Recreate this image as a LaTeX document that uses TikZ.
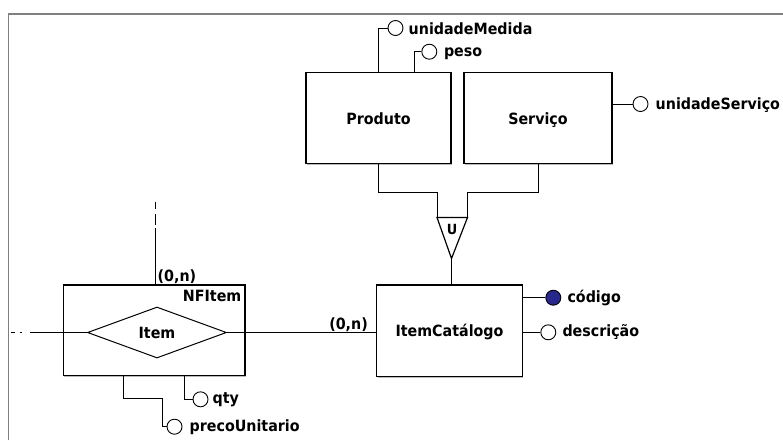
\documentclass[tikz,border=0pt]{standalone}
\usepackage{fontspec}
\setmainfont{DejaVu Sans}[FakeStretch=0.92]
\usetikzlibrary{shapes.geometric,calc,shadows}
\definecolor{keyblue}{RGB}{40,40,140}
\definecolor{framegray}{RGB}{128,128,128}
\begin{document}
\begin{tikzpicture}[x=1pt,y=-1pt,
  font=\bfseries\fontsize{15.5}{17}\selectfont,
  entity/.style={draw, fill=white, line width=1.3pt, inner sep=0pt,
    text height=11.5pt, text depth=0pt,
    drop shadow={shadow xshift=1pt, shadow yshift=-1.2pt, fill=black!45, opacity=0.6}},
  relship/.style={diamond, draw, line width=1pt, inner sep=0pt, aspect=2.7},
  attr/.style={circle, draw, fill=white, line width=0.9pt, minimum size=15pt, inner sep=0pt},
  keyattr/.style={attr, fill=keyblue},
  attrtext/.style={inner sep=0pt, anchor=base west},
  card/.style={inner sep=0pt},
  conn/.style={line width=1pt}]
\useasboundingbox (0,0) rectangle (783,440);

% window frame
\draw[framegray, line width=1.8pt] (8.5,440) -- (8.5,14) -- (783,14);

% entities
\node[entity, minimum width=145pt, minimum height=91pt] (produto) at (378.5,118.3) {Produto};
\node[entity, minimum width=148pt, minimum height=91pt] (servico) at (538,118.3) {Serviço};
\node[entity, minimum width=145.6pt, minimum height=91.7pt] (itemcat) at (449.5,330.8) {ItemCatálogo};
\node[entity, minimum width=181.7pt, minimum height=90.7pt] (nfitem) at (154.2,330.3) {};
\node[card, anchor=base east] (nfname) at (241.5,301.7) {NFItem};
\node[relship, minimum width=139pt, minimum height=51pt] (item) at (157,332.5) {Item};

% union (category) triangle
\coordinate (uL) at (437,217.5);
\coordinate (uR) at (467.5,217.5);
\coordinate (uA) at (451.5,258.5);
\coordinate (joinY) at (0,192.7);
\draw[line width=1.2pt, line join=miter] (uL) -- (uR) -- (uA) -- cycle;
\node[inner sep=0pt, font=\bfseries\fontsize{14}{16}\selectfont] (uSym) at (452,229) {U};
\draw[conn] (produto.south) |- (joinY -| uL) -- (uL);
\draw[conn] (servico.south) |- (joinY -| uR) -- (uR);
\draw[conn] (uA) -- (uA |- itemcat.north);

% relationship connectors
\coordinate (leftEnd) at (11,332.5);
\coordinate (leftSolid) at (30,332.5);
\draw[conn, dash pattern=on 4pt off 5pt on 1.5pt off 8.5pt] (leftEnd) -- (leftSolid);
\draw[conn] (leftSolid) -- (item.west);
\draw[conn] (item.east) -- (item.east -| itemcat.west);
\coordinate (upEnd) at (155,201.7);
\coordinate (upSolid) at (155,228);
\draw[conn, dash pattern=on 7.5pt off 5pt on 11pt off 3pt] (upEnd) -- (upSolid);
\draw[conn] (upSolid) -- (upSolid |- nfitem.north);
\node[card, anchor=base west] (cardNF) at (157.5,281.5) {(0,n)};
\node[card, anchor=base east] (cardIC) at (368,329.5) {(0,n)};

% attributes of Produto
\node[attr] (aMed) at (395.5,28) {};
\node[attrtext] (tMed) at ($(aMed)+(13,6)$) {unidadeMedida};
\draw[conn] (produto.north) |- (aMed.west);
\node[attr] (aPeso) at (429.3,51.7) {};
\node[attrtext] (tPeso) at ($(aPeso)+(14.5,4.5)$) {peso};
\draw[conn] ($(produto.north west)+(109,0)$) |- (aPeso.west);

% attribute of Serviço
\node[attr] (aServ) at (640.5,104) {};
\node[attrtext] (tServ) at ($(aServ)+(15,5)$) {unidadeServiço};
\draw[conn] (servico.east |- aServ) -- (aServ.west);

% attributes of ItemCatálogo
\node[keyattr] (aCod) at (553.3,297.7) {};
\node[attrtext] (tCod) at ($(aCod)+(14,5)$) {código};
\draw[conn] (itemcat.east |- aCod) -- (aCod.west);
\node[attr] (aDesc) at (548.3,332.3) {};
\node[attrtext] (tDesc) at ($(aDesc)+(14,4.5)$) {descrição};
\draw[conn] (itemcat.east |- aDesc) -- (aDesc.west);

% attributes of NFItem
\node[attr] (aQty) at (200.5,399.3) {};
\node[attrtext] (tQty) at ($(aQty)+(12,4)$) {qty};
\draw[conn] ($(nfitem.south west)+(121.7,0)$) |- (aQty.west);
\node[attr] (aPreco) at (174.5,426.7) {};
\node[attrtext] (tPreco) at ($(aPreco)+(15,4.5)$) {precoUnitario};
\coordinate (pBend) at (162.7,398.3);
\draw[conn] ($(nfitem.south west)+(61,0)$) |- (pBend) |- (aPreco.west);
\end{tikzpicture}
\end{document}
